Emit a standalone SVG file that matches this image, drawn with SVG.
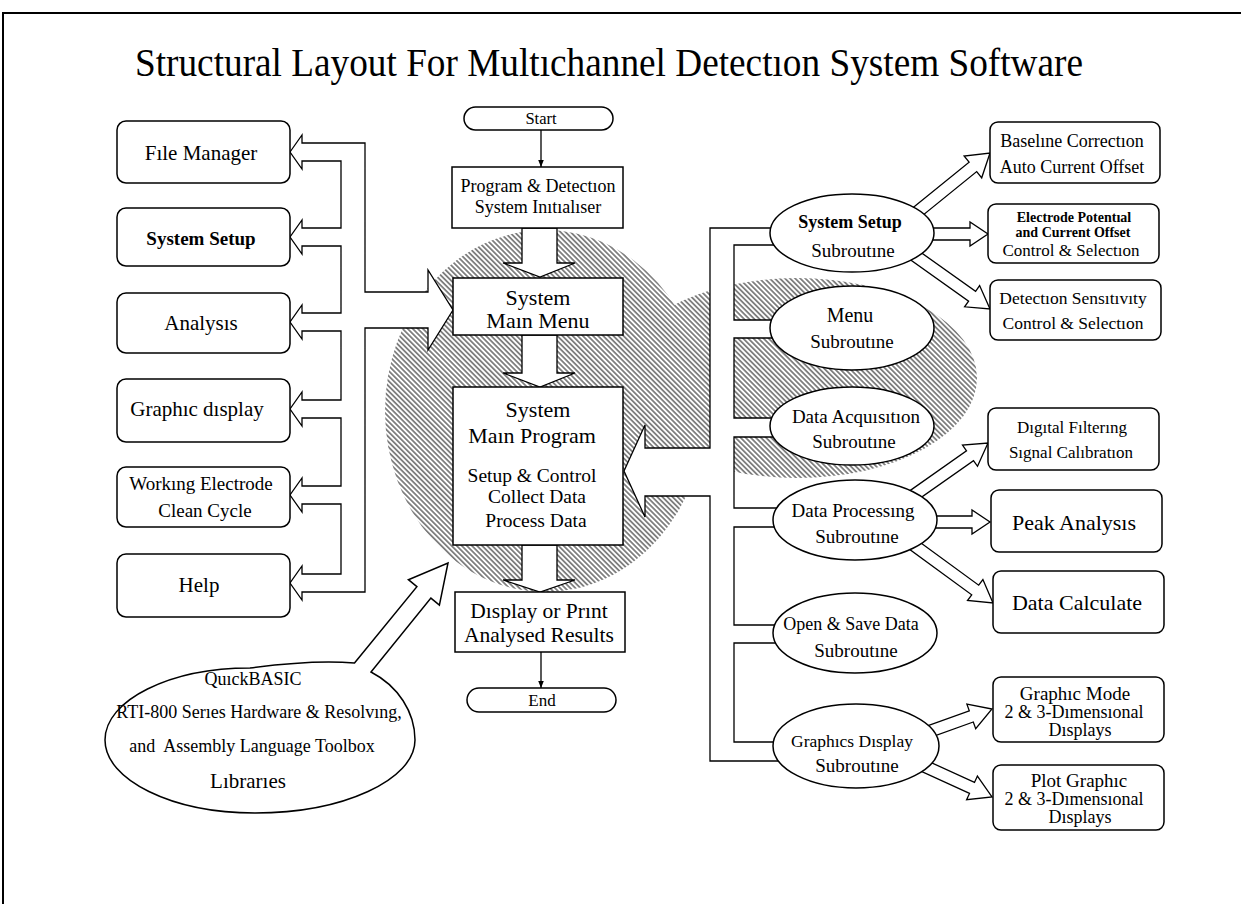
<svg xmlns="http://www.w3.org/2000/svg" width="1241" height="904" viewBox="0 0 1241 904">
<defs>
<style>
.box{fill:#fff;stroke:#000;stroke-width:1.5}
.pipe{fill:#fff;stroke:#000;stroke-width:1.3;stroke-linejoin:miter}
.ln{fill:none;stroke:#000;stroke-width:1.3}
.t{font-family:"Liberation Serif","Times New Roman",serif;fill:#000;text-anchor:middle}
.b{font-weight:bold}
</style>
<pattern id="hatch" patternUnits="userSpaceOnUse" width="3.6" height="3.6" patternTransform="rotate(-45)">
<line x1="1.8" y1="-1" x2="1.8" y2="5" stroke="#000" stroke-width="0.9"/>
</pattern>
<marker id="ah" viewBox="0 0 10 10" refX="10" refY="5" markerWidth="8" markerHeight="7" markerUnits="userSpaceOnUse" orient="auto">
<path d="M0,1 L10,5 L0,9 z" fill="#000"/>
</marker>
</defs>
<rect width="1241" height="904" fill="#fff"/>
<path d="M3,904 V13 H1241" fill="none" stroke="#000" stroke-width="2"/>
<text class="t" x="609" y="76" font-size="40" textLength="948" lengthAdjust="spacingAndGlyphs">Structural Layout For Multıchannel Detectıon System Software</text>

<g id="hatching">
<path fill="url(#hatch)" fill-rule="nonzero" d="M385,411 a160,181 0 1,0 320,0 a160,181 0 1,0 -320,0 Z M617,378 a180,100 0 1,0 360,0 a180,100 0 1,0 -360,0 Z"/>
</g>

<g id="connectors">
<polygon class="pipe" points="290,152 302,135 302,143 365,143 365,292 428,292 428,270 453,310 428,350 428,328 365,328 365,592 302,592 302,600 290,583 302,566 302,574 341,574 341,504 302,504 302,512 290,495 302,478 302,486 341,486 341,418 302,418 302,426 290,409 302,392 302,400 341,400 341,331 302,331 302,339 290,322 302,305 302,313 341,313 341,246 302,246 302,254 290,237 302,220 302,228 341,228 341,161 302,161 302,169"/>
<polygon class="pipe" points="780,228 710,228 710,448 645,448 645,425 624,471 645,517 645,496 710,496 710,761 782,761 782,742 734,742 734,643 782,643 782,625 734,625 734,527 782,527 782,508 734,508 734,437 779,437 779,418 734,418 734,338 779,338 779,320 734,320 734,245 779,245"/>
<polygon class="pipe" points="522,228 522,263 503,263 540,277 575,263 557,263 557,228"/>
<polygon class="pipe" points="522,335 522,373 503,373 540,387 575,373 557,373 557,335"/>
<polygon class="pipe" points="522,545 522,580 503,580 540,592 575,580 557,580 557,545"/>
<line class="ln" x1="541" y1="130" x2="541" y2="167" marker-end="url(#ah)"/>
<line class="ln" x1="541" y1="652" x2="541" y2="688" marker-end="url(#ah)"/>
<polygon class="pipe" points="896.2,221.3 969.1,162.2 964.1,156 990,153 981.7,177.8 976.7,171.6 903.8,230.7"/>
<polygon class="pipe" points="915,228 970,228 970,222 988,234 970,246 970,240 915,240"/>
<polygon class="pipe" points="903.5,240.1 975.6,291.3 979.6,285.6 990,309 964.6,306.8 968.6,301.1 896.5,249.9"/>
<polygon class="pipe" points="896.5,500.1 966.5,450.8 962.5,445.1 988,443 977.5,466.3 973.5,460.6 903.5,509.9"/>
<polygon class="pipe" points="915,516 972,516 972,510 990,522 972,534 972,528 915,528"/>
<polygon class="pipe" points="903.5,530.2 978.7,585.2 982.9,579.5 993,603 967.5,600.5 971.7,594.8 896.5,539.8"/>
<polygon class="pipe" points="898,736.4 969.3,710.8 966.9,704.2 992,709 975.7,728.6 973.3,722 902,747.6"/>
<polygon class="pipe" points="902.5,749.5 974.5,782.4 977.4,776.1 992,797 966.6,799.7 969.5,793.4 897.5,760.5"/>
</g>

<g id="file-manager">
<rect class="box" x="117" y="121" width="173" height="62" rx="9"/>
<text class="t" x="201" y="160" font-size="21">Fıle Manager</text>
</g>
<g id="system-setup">
<rect class="box" x="117" y="208" width="173" height="58" rx="9"/>
<text class="t b" x="201" y="245" font-size="19">System Setup</text>
</g>
<g id="analysis">
<rect class="box" x="117" y="293" width="173" height="60" rx="9"/>
<text class="t" x="201" y="330" font-size="21">Analysıs</text>
</g>
<g id="graphic-display">
<rect class="box" x="117" y="379" width="173" height="63" rx="9"/>
<text class="t" x="197" y="416" font-size="21">Graphıc dısplay</text>
</g>
<g id="working-electrode">
<rect class="box" x="117" y="467" width="173" height="60" rx="9"/>
<text class="t" x="201" y="490" font-size="19">Workıng Electrode</text>
<text class="t" x="205" y="517" font-size="19">Clean Cycle</text>
</g>
<g id="help">
<rect class="box" x="117" y="554" width="173" height="63" rx="9"/>
<text class="t" x="199" y="592" font-size="21">Help</text>
</g>

<g id="start">
<rect class="box" x="464" y="107" width="149" height="23" rx="11.5"/>
<text class="t" x="541" y="124" font-size="16.5">Start</text>
</g>
<g id="initialiser">
<rect class="box" x="452" y="167" width="171" height="61"/>
<text class="t" x="538" y="192" font-size="18">Program &amp; Detectıon</text>
<text class="t" x="538" y="213" font-size="18">System Inıtıalıser</text>
</g>
<g id="main-menu">
<rect class="box" x="453" y="278" width="170" height="57"/>
<text class="t" x="538" y="305" font-size="22">System</text>
<text class="t" x="538" y="328" font-size="22">Maın Menu</text>
</g>
<g id="main-program">
<rect class="box" x="453" y="387" width="170" height="158"/>
<text class="t" x="538" y="417" font-size="22">System</text>
<text class="t" x="532" y="443" font-size="22">Maın Program</text>
<text class="t" x="532" y="482" font-size="19.5">Setup &amp; Control</text>
<text class="t" x="537" y="503" font-size="19.5">Collect Data</text>
<text class="t" x="536" y="527" font-size="19.5">Process Data</text>
</g>
<g id="display-results">
<rect class="box" x="455" y="592" width="170" height="60"/>
<text class="t" x="539" y="618" font-size="21.5">Dısplay or Prınt</text>
<text class="t" x="539" y="642" font-size="21.5">Analysed Results</text>
</g>
<g id="end">
<rect class="box" x="467" y="688" width="149" height="24" rx="12"/>
<text class="t" x="542" y="706" font-size="17">End</text>
</g>

<g id="libraries">
<path class="box" d="M354.5,663 L416.9,586.7 L408.4,579.7 L448,563 L439.4,605.1 L430.9,598.1 L371,672 C398,686 415,712 415,740 C415,780 343,813 255,813 C172,813 105,780 105,740 C105,700 170,668 250,668 C280,664 320,660 354.5,663 Z"/>
<text class="t" x="253" y="685" font-size="18">QuıckBASIC</text>
<text class="t" x="259" y="718" font-size="18">RTI-800 Serıes Hardware &amp; Resolvıng,</text>
<text class="t" x="252" y="752" font-size="18" xml:space="preserve">and  Assembly Language Toolbox</text>
<text class="t" x="248" y="788" font-size="21">Lıbrarıes</text>
</g>

<g id="system-setup-sub">
<ellipse class="box" cx="852" cy="233" rx="82" ry="39"/>
<text class="t b" x="850" y="228" font-size="18">System Setup</text>
<text class="t" x="853" y="257" font-size="19">Subroutıne</text>
</g>
<g id="menu-sub">
<ellipse class="box" cx="852" cy="328" rx="82" ry="42"/>
<text class="t" x="850" y="322" font-size="20">Menu</text>
<text class="t" x="852" y="348" font-size="19">Subroutıne</text>
</g>
<g id="data-acquisition-sub">
<ellipse class="box" cx="852" cy="426" rx="82" ry="39"/>
<text class="t" x="856" y="423" font-size="19">Data Acquısıtıon</text>
<text class="t" x="854" y="448" font-size="19">Subroutıne</text>
</g>
<g id="data-processing-sub">
<ellipse class="box" cx="855" cy="520" rx="82" ry="40"/>
<text class="t" x="853" y="517" font-size="19">Data Processıng</text>
<text class="t" x="857" y="543" font-size="19">Subroutıne</text>
</g>
<g id="open-save-sub">
<ellipse class="box" cx="855" cy="633" rx="82" ry="40"/>
<text class="t" x="851" y="630" font-size="18">Open &amp; Save Data</text>
<text class="t" x="856" y="657" font-size="19">Subroutıne</text>
</g>
<g id="graphics-display-sub">
<ellipse class="box" cx="856" cy="746" rx="83" ry="42"/>
<text class="t" x="852" y="747" font-size="17.5">Graphıcs Dısplay</text>
<text class="t" x="857" y="772" font-size="19">Subroutıne</text>
</g>

<g id="baseline-correction">
<rect class="box" x="990" y="122" width="170" height="61" rx="8"/>
<text class="t" x="1072" y="147" font-size="18">Baselıne Correctıon</text>
<text class="t" x="1072" y="173" font-size="18">Auto Current Offset</text>
</g>
<g id="electrode-potential">
<rect class="box" x="988" y="204" width="171" height="59" rx="8"/>
<text class="t b" x="1074" y="222" font-size="14">Electrode Potentıal</text>
<text class="t b" x="1073" y="237" font-size="14">and Current Offset</text>
<text class="t" x="1071" y="256" font-size="17">Control &amp; Selectıon</text>
</g>
<g id="detection-sensitivity">
<rect class="box" x="990" y="280" width="171" height="60" rx="8"/>
<text class="t" x="1073" y="304" font-size="17.5">Detectıon Sensıtıvıty</text>
<text class="t" x="1073" y="329" font-size="17.5">Control &amp; Selectıon</text>
</g>
<g id="digital-filtering">
<rect class="box" x="988" y="408" width="171" height="62" rx="8"/>
<text class="t" x="1072" y="433" font-size="17">Dıgıtal Fılterıng</text>
<text class="t" x="1071" y="458" font-size="17">Sıgnal Calıbratıon</text>
</g>
<g id="peak-analysis">
<rect class="box" x="991" y="490" width="171" height="62" rx="8"/>
<text class="t" x="1074" y="530" font-size="22">Peak Analysıs</text>
</g>
<g id="data-calculate">
<rect class="box" x="993" y="571" width="171" height="62" rx="8"/>
<text class="t" x="1077" y="610" font-size="22">Data Calculate</text>
</g>
<g id="graphic-mode">
<rect class="box" x="993" y="677" width="171" height="65" rx="8"/>
<text class="t" x="1075" y="700" font-size="19">Graphıc Mode</text>
<text class="t" x="1074" y="718" font-size="18">2 &amp; 3-Dımensıonal</text>
<text class="t" x="1080" y="736" font-size="18">Dısplays</text>
</g>
<g id="plot-graphic">
<rect class="box" x="993" y="765" width="171" height="65" rx="8"/>
<text class="t" x="1079" y="787" font-size="19">Plot Graphıc</text>
<text class="t" x="1074" y="805" font-size="18">2 &amp; 3-Dımensıonal</text>
<text class="t" x="1080" y="823" font-size="18">Dısplays</text>
</g>
</svg>
